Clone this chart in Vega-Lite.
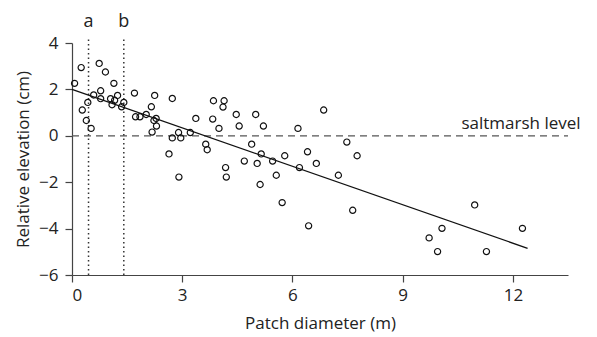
{
  "$schema": "https://vega.github.io/schema/vega-lite/v6.json",
  "width": 496,
  "height": 232,
  "autosize": "none",
  "padding": {"left": 72, "top": 43, "right": 29, "bottom": 62},
  "background": "white",
  "config": {
    "view": {"stroke": null},
    "font": "Open Sans",
    "axis": {
      "grid": false,
      "domainColor": "#444",
      "tickColor": "#444",
      "labelColor": "#222",
      "titleColor": "#222",
      "labelFontSize": 17,
      "titleFontSize": 17,
      "titleFontWeight": "normal",
      "labelFont": "Open Sans",
      "titleFont": "Open Sans",
      "tickSize": 7,
      "domainWidth": 1.2,
      "tickWidth": 1.2
    }
  },
  "layer": [
    {
      "data": {"values": [{"x0": 0, "x1": 13.5, "y": 0}]},
      "mark": {"type": "rule", "color": "#555", "strokeDash": [7, 5], "strokeWidth": 1.3},
      "encoding": {
        "x": {"field": "x0", "type": "quantitative", "scale": {"domain": [0, 13.5], "nice": false}, "axis": {"values": [0, 3, 6, 9, 12], "title": "Patch diameter (m)", "labelPadding": 5, "titlePadding": 12}},
        "x2": {"field": "x1"},
        "y": {"field": "y", "type": "quantitative", "scale": {"domain": [-6, 4], "nice": false}, "axis": {"values": [-6, -4, -2, 0, 2, 4], "title": "Relative elevation (cm)", "labelPadding": 7, "titlePadding": 6}}
      }
    },
    {
      "data": {"values": [{"x": 0.45, "y1": -6, "y2": 4.25, "lab": "a"}, {"x": 1.41, "y1": -6, "y2": 4.25, "lab": "b"}]},
      "layer": [
        {
          "mark": {"type": "rule", "color": "#333", "strokeDash": [1.5, 3], "strokeWidth": 1.5, "clip": false},
          "encoding": {
            "x": {"field": "x", "type": "quantitative"},
            "y": {"field": "y1", "type": "quantitative"},
            "y2": {"field": "y2"}
          }
        },
        {
          "mark": {"type": "text", "fontSize": 18, "color": "#222", "baseline": "bottom", "dy": -6, "clip": false},
          "encoding": {
            "x": {"field": "x", "type": "quantitative"},
            "y": {"field": "y2", "type": "quantitative"},
            "text": {"field": "lab"}
          }
        }
      ]
    },
    {
      "data": {"values": [{"x": 10.6, "y": 0, "t": "saltmarsh level"}]},
      "mark": {"type": "text", "fontSize": 17, "color": "#222", "align": "left", "baseline": "bottom", "dy": -3, "clip": false},
      "encoding": {
        "x": {"field": "x", "type": "quantitative"},
        "y": {"field": "y", "type": "quantitative"},
        "text": {"field": "t"}
      }
    },
    {
      "data": {"values": [{"x": 0, "y": 2.0}, {"x": 12.4, "y": -4.85}]},
      "mark": {"type": "line", "color": "#111", "strokeWidth": 1.3},
      "encoding": {
        "x": {"field": "x", "type": "quantitative"},
        "y": {"field": "y", "type": "quantitative"}
      }
    },
    {
      "data": {"values": [
        {"x": 0.07, "y": 2.26}, {"x": 0.25, "y": 2.94}, {"x": 0.28, "y": 1.11}, {"x": 0.39, "y": 0.66},
        {"x": 0.43, "y": 1.44}, {"x": 0.52, "y": 0.32}, {"x": 0.59, "y": 1.76}, {"x": 0.74, "y": 3.12},
        {"x": 0.78, "y": 1.94}, {"x": 0.78, "y": 1.60}, {"x": 0.91, "y": 2.75}, {"x": 1.05, "y": 1.60},
        {"x": 1.09, "y": 1.34}, {"x": 1.14, "y": 2.26}, {"x": 1.16, "y": 1.53}, {"x": 1.24, "y": 1.74},
        {"x": 1.35, "y": 1.25}, {"x": 1.41, "y": 1.44}, {"x": 1.70, "y": 1.84}, {"x": 1.73, "y": 0.82},
        {"x": 1.85, "y": 0.82}, {"x": 2.02, "y": 0.92}, {"x": 2.16, "y": 1.25}, {"x": 2.25, "y": 1.74},
        {"x": 2.18, "y": 0.16}, {"x": 2.23, "y": 0.66}, {"x": 2.29, "y": 0.75}, {"x": 2.30, "y": 0.42},
        {"x": 2.64, "y": -0.78}, {"x": 2.73, "y": 1.61}, {"x": 2.73, "y": -0.09}, {"x": 2.90, "y": 0.14},
        {"x": 2.91, "y": -1.78}, {"x": 2.96, "y": -0.09}, {"x": 3.22, "y": 0.14}, {"x": 3.37, "y": 0.75},
        {"x": 3.64, "y": -0.36}, {"x": 3.68, "y": -0.60}, {"x": 3.83, "y": 0.72}, {"x": 3.85, "y": 1.51},
        {"x": 4.00, "y": 0.32}, {"x": 4.11, "y": 1.24}, {"x": 4.14, "y": 1.51}, {"x": 4.18, "y": -1.37},
        {"x": 4.20, "y": -1.78}, {"x": 4.47, "y": 0.92}, {"x": 4.55, "y": 0.42}, {"x": 4.69, "y": -1.09},
        {"x": 4.89, "y": -0.36}, {"x": 5.00, "y": 0.92}, {"x": 5.04, "y": -1.19}, {"x": 5.12, "y": -2.10},
        {"x": 5.15, "y": -0.78}, {"x": 5.21, "y": 0.42}, {"x": 5.46, "y": -1.09}, {"x": 5.56, "y": -1.70},
        {"x": 5.72, "y": -2.88}, {"x": 5.79, "y": -0.86}, {"x": 6.15, "y": 0.32}, {"x": 6.19, "y": -1.37},
        {"x": 6.41, "y": -0.69}, {"x": 6.44, "y": -3.88}, {"x": 6.65, "y": -1.19}, {"x": 6.85, "y": 1.11},
        {"x": 7.25, "y": -1.70}, {"x": 7.48, "y": -0.27}, {"x": 7.64, "y": -3.21}, {"x": 7.76, "y": -0.86},
        {"x": 9.72, "y": -4.40}, {"x": 9.95, "y": -4.99}, {"x": 10.07, "y": -3.99}, {"x": 10.96, "y": -2.98},
        {"x": 11.28, "y": -4.99}, {"x": 12.26, "y": -3.99}
      ]},
      "mark": {"type": "point", "shape": "circle", "filled": false, "color": "#111", "strokeWidth": 1.2, "size": 38, "opacity": 1},
      "encoding": {
        "x": {"field": "x", "type": "quantitative"},
        "y": {"field": "y", "type": "quantitative"}
      }
    }
  ]
}
